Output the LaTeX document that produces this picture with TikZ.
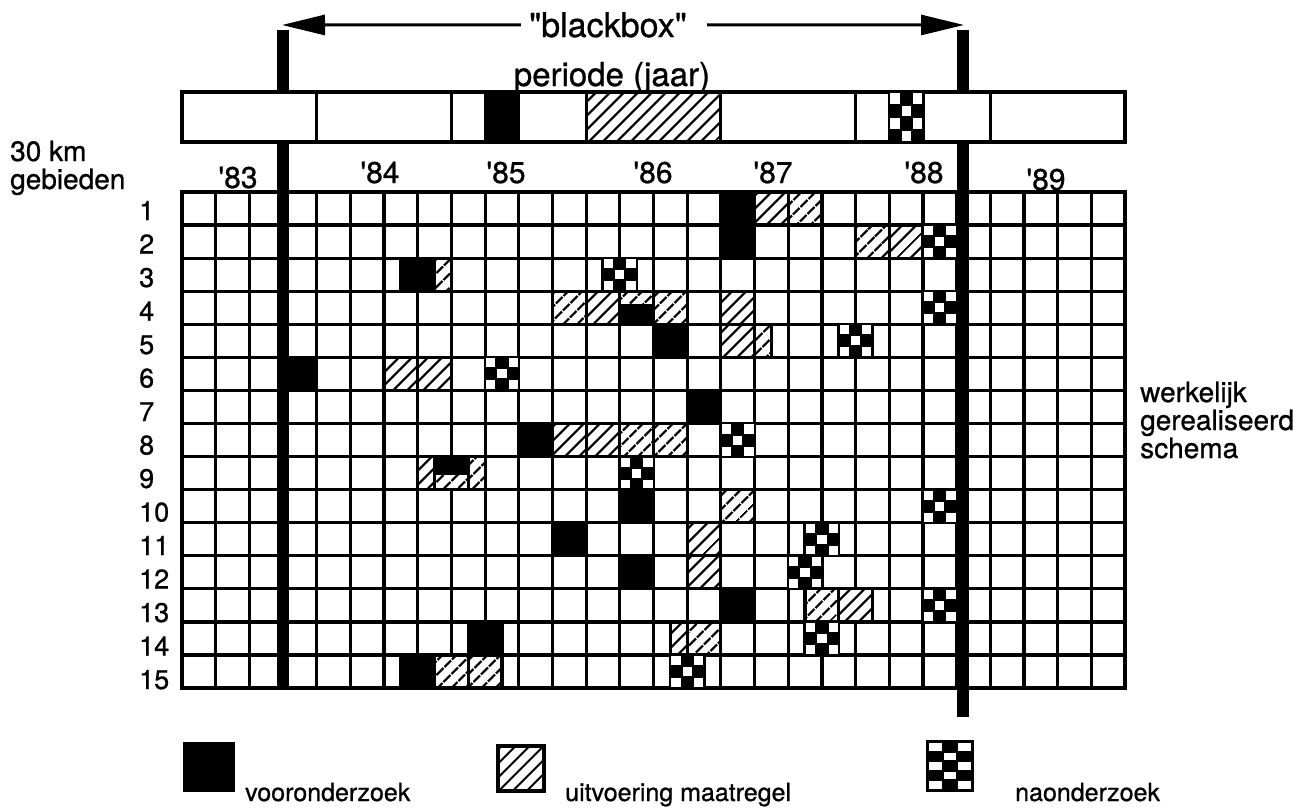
\documentclass[tikz,border=0pt]{standalone}
\usepackage{fontspec}
\newfontfamily\hvfont{TeX Gyre Heros}[FakeBold=0.8]
\usetikzlibrary{patterns.meta,arrows.meta}

\tikzset{
  gridline/.style={line width=3.2pt},
  cellbox/.style={line width=3.2pt},
  hatch/.style={preaction={fill=white},pattern={Lines[angle=45,distance=10.5pt,line width=2.4pt]}},
  thickbar/.style={line width=11.5pt},
  arrowline/.style={line width=3pt,-{Triangle[length=43pt,width=20pt]}},
  lbl/.style={font=\hvfont\fontsize{28}{30}\selectfont, inner sep=0pt},
  rowlbl/.style={font=\hvfont\fontsize{27}{29}\selectfont, inner sep=0pt, anchor=base west},
  yearlbl/.style={font=\hvfont\fontsize{30}{32}\selectfont, inner sep=0pt, anchor=base},
  titlelbl/.style={font=\hvfont\fontsize{34}{36}\selectfont, inner ysep=0pt, inner xsep=8pt, anchor=base},
  periodlbl/.style={font=\hvfont\fontsize{33}{35}\selectfont, inner sep=0pt, anchor=base},
  leglbl/.style={font=\hvfont\fontsize{25}{27}\selectfont, inner sep=0pt, anchor=base west},
}

\newcommand{\ckbox}[6]{%
  \pgfmathsetmacro\ckxa{#1}\pgfmathsetmacro\ckya{#2}%
  \pgfmathsetmacro\ckxb{#3}\pgfmathsetmacro\ckyb{#4}%
  \pgfmathsetmacro\ckw{(\ckxb-\ckxa)/#5}\pgfmathsetmacro\ckh{(\ckyb-\ckya)/#6}%
  \pgfmathtruncatemacro\cknx{#5-1}\pgfmathtruncatemacro\ckny{#6-1}%
  \filldraw[cellbox,fill=black] (\ckxa,\ckya) rectangle (\ckxb,\ckyb);
  \foreach \ii in {0,...,\cknx}{\foreach \jj in {0,...,\ckny}{%
    \pgfmathtruncatemacro\ckp{mod(\ii+\jj,2)}%
    \ifnum\ckp=0
      \fill[white] ({\ckxa+\ii*\ckw+1.0},{\ckya+\jj*\ckh+1.0}) rectangle ({\ckxa+(\ii+1)*\ckw-1.0},{\ckya+(\jj+1)*\ckh-1.0});
    \fi}}%
}
\newcommand{\blkcell}[3]{\filldraw[cellbox,fill=black] ({182+#2*33.68},{192+(#1-1)*33.07}) rectangle ({182+#3*33.68},{192+#1*33.07});}
\newcommand{\hatcell}[3]{\draw[cellbox,hatch] ({182+#2*33.68},{192+(#1-1)*33.07}) rectangle ({182+#3*33.68},{192+#1*33.07});}
\newcommand{\chkcell}[3]{\ckbox{182+#2*33.68}{192+(#1-1)*33.07}{182+#3*33.68}{192+#1*33.07}{3}{3}}

\begin{document}
\begin{tikzpicture}[x=1pt,y=-1pt]
\useasboundingbox[fill=white] (0,0) rectangle (1312,811);

% grid
\foreach \c in {0,...,28} \draw[gridline] ({182+\c*33.68},192) -- ({182+\c*33.68},688);
\foreach \r in {0,...,15} \draw[gridline] (180.4,{192+\r*33.07}) -- (1126.6,{192+\r*33.07});

% row 1
\blkcell{1}{16}{17} \hatcell{1}{17}{18} \hatcell{1}{18}{19}
% row 2
\blkcell{2}{16}{17} \hatcell{2}{20}{21} \hatcell{2}{21}{22} \chkcell{2}{22}{23}
% row 3
\blkcell{3}{6.5}{7.5} \hatcell{3}{7.5}{8} \chkcell{3}{12.5}{13.5}
% row 4
\hatcell{4}{11}{12} \hatcell{4}{12}{13} \hatcell{4}{13}{14} \hatcell{4}{14}{15}
\fill[black] ({182+13*33.68},{192+3*33.07+13}) rectangle ({182+14*33.68},{192+4*33.07});
\hatcell{4}{16}{17} \chkcell{4}{22}{23}
% row 5
\blkcell{5}{14}{15} \hatcell{5}{16}{17} \hatcell{5}{17}{17.5} \chkcell{5}{19.5}{20.5}
% row 6
\blkcell{6}{3}{4} \hatcell{6}{6}{7} \hatcell{6}{7}{8} \chkcell{6}{9}{10}
% row 7
\blkcell{7}{15}{16}
% row 8
\blkcell{8}{10}{11} \hatcell{8}{11}{12} \hatcell{8}{12}{13} \hatcell{8}{13}{14} \hatcell{8}{14}{15} \chkcell{8}{16}{17}
% row 9
\hatcell{9}{7}{7.5} \hatcell{9}{7.5}{8.5} \hatcell{9}{8.5}{9}
\fill[black] ({182+7.5*33.68},{192+8*33.07}) rectangle ({182+8.5*33.68},{192+8*33.07+18});
\chkcell{9}{13}{14}
% row 10
\blkcell{10}{13}{14} \hatcell{10}{16}{17} \chkcell{10}{22}{23}
% row 11
\blkcell{11}{11}{12} \hatcell{11}{15}{16} \chkcell{11}{18.5}{19.5}
% row 12
\blkcell{12}{13}{14} \hatcell{12}{15}{16} \chkcell{12}{18}{19}
% row 13
\blkcell{13}{16}{17} \hatcell{13}{18.5}{19.5} \hatcell{13}{19.5}{20.5} \chkcell{13}{22}{23}
% row 14
\blkcell{14}{8.5}{9.5} \hatcell{14}{14.5}{15} \hatcell{14}{15}{16} \chkcell{14}{18.5}{19.5}
% row 15
\blkcell{15}{6.5}{7.5} \hatcell{15}{7.5}{8.5} \hatcell{15}{8.5}{9.5} \chkcell{15}{14.5}{15.5}

% thick period lines
\draw[thickbar] (283,30) -- (283,688);
\draw[thickbar] (963,30) -- (963,717);

% top bar
\draw[cellbox,fill=white] (182,92) rectangle (1125,142);
\foreach \c in {4,8,20,24} \draw[cellbox] ({182+\c*33.68},92) -- ({182+\c*33.68},142);
\filldraw[cellbox,fill=black] ({182+9*33.68},92) rectangle ({182+10*33.68},142);
\draw[cellbox,hatch] ({182+12*33.68},92) rectangle ({182+16*33.68},142);
\ckbox{182+21*33.68}{92}{182+22*33.68}{142}{3}{4}

% title and arrows
\node[titlelbl] (bb) at (608,37) {"blackbox"};
\coordinate (tipL) at (282,25);
\coordinate (tipR) at (964,25);
\draw[arrowline] (bb.west) -- (tipL);
\draw[arrowline] (bb.east) ++(12,0) coordinate (bbR) (bbR) -- (tipR);
\node[periodlbl] (per) at (612,86) {periode (jaar)};

% year labels
\node[yearlbl] (y83) at (238,188) {'83};
\node[yearlbl] (y84) at (380,183) {'84};
\node[yearlbl] (y85) at (506,183) {'85};
\node[yearlbl] (y86) at (653,183) {'86};
\node[yearlbl] (y87) at (773,183) {'87};
\node[yearlbl] (y88) at (924,183) {'88};
\node[yearlbl] (y89) at (1046,190) {'89};

% left labels
\node[lbl,anchor=base west] (km) at (10,161) {30 km};
\node[lbl,anchor=base west] (geb) at (10,189) {gebieden};
\foreach \r in {1,...,15} \node[rowlbl] (r\r) at (139,{220+33.5*(\r-1)}) {\r};

% right labels
\node[lbl,anchor=base west] (wk) at (1140,402) {werkelijk};
\node[lbl,anchor=base west] (gr) at (1140,430) {gerealiseerd};
\node[lbl,anchor=base west] (sc) at (1140,458) {schema};

% legend
\fill[black] (183,742) rectangle (235,792);
\node[leglbl] (lv) at (245,801) {vooronderzoek};
\draw[cellbox,hatch] (498,746) rectangle (544,791);
\node[leglbl] (lu) at (565,801) {uitvoering maatregel};
\ckbox{928}{742}{972}{790}{3}{5}
\node[leglbl] (ln) at (1015,801) {naonderzoek};
\end{tikzpicture}
\end{document}
